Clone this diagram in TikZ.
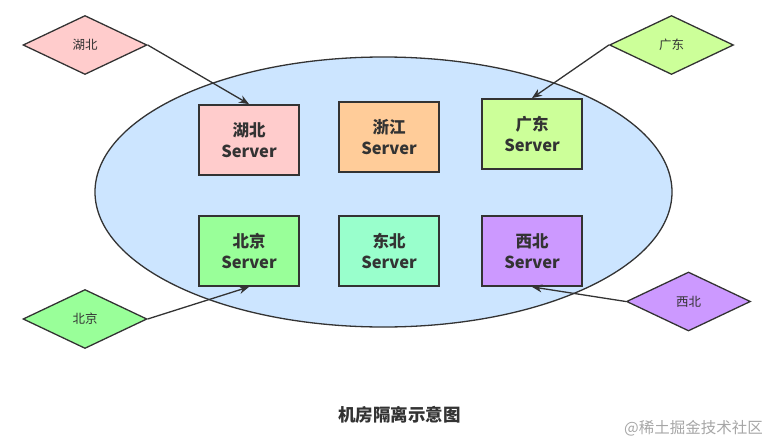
\documentclass[tikz,border=0pt]{standalone}
\usepackage{fontspec}
\newfontfamily\cjk{Noto Sans CJK SC}
\usetikzlibrary{positioning,arrows.meta,shapes.geometric}

\definecolor{linegray}{HTML}{333333}
\definecolor{roompink}{HTML}{FFCCCC}
\definecolor{roomorange}{HTML}{FFCC99}
\definecolor{roomlime}{HTML}{CCFF99}
\definecolor{roomgreen}{HTML}{99FF99}
\definecolor{roommint}{HTML}{99FFCC}
\definecolor{roompurple}{HTML}{CC99FF}
\definecolor{zoneblue}{HTML}{CCE5FF}

\begin{document}
\begin{tikzpicture}[
    x=1pt, y=-1pt,
    font=\cjk,
    server/.style={
        draw=linegray,
        fill=#1,
        line width=1.8pt,
        align=center,
        minimum width=100pt,
        minimum height=70pt,
        text=linegray,
        font=\cjk\bfseries\fontsize{16.5}{20.5}\selectfont
    },
    region/.style={
        diamond,
        draw=linegray,
        fill=#1,
        line width=1.3pt,
        aspect=2.1,
        inner sep=0pt,
        minimum width=124pt,
        minimum height=59pt,
        text=linegray,
        font=\cjk\fontsize{12.5}{15}\selectfont
    },
    route/.style={-{Stealth[length=10pt,width=8pt]}, line width=1.3pt, draw=linegray}
]
\useasboundingbox (0,0) rectangle (771,442);

\node[ellipse, draw=linegray, fill=zoneblue, line width=1.3pt,
      minimum width=577pt, minimum height=270pt] (zone) at (383.5,192) {};

\node[server=roompink] (hubei) at (249,140) {湖北\\Server};
\node[server=roomorange] (zhejiang) at (389,137) {浙江\\Server};
\node[server=roomlime] (guangdong) at (532,134) {广东\\Server};
\node[server=roomgreen] (beijing) at (249,251) {北京\\Server};
\node[server=roommint] (dongbei) at (389,251) {东北\\Server};
\node[server=roompurple] (xibei) at (532,251) {西北\\Server};

\node[region=roompink] (hubeidc) at (85,45) {湖北};
\node[region=roomlime] (guangdongdc) at (671.5,45) {广东};
\node[region=roomgreen] (beijingdc) at (85,319) {北京};
\node[region=roompurple] (xibeidc) at (688.5,301.5) {西北};

\draw[route] (hubeidc.east) -- (hubei.north);
\draw[route] (guangdongdc.west) -- (guangdong.north);
\draw[route] (beijingdc.east) -- (beijing.south);
\draw[route] (xibeidc.west) -- (xibei.south);

\node[font=\cjk\bfseries\fontsize{17.5}{20}\selectfont, text=linegray] (caption) at (399.5,415) {机房隔离示意图};
\node[font=\cjk\fontsize{15.5}{18}\selectfont, text=black!35] (mark) at (693.5,428) {@稀土掘金技术社区};
\end{tikzpicture}
\end{document}
